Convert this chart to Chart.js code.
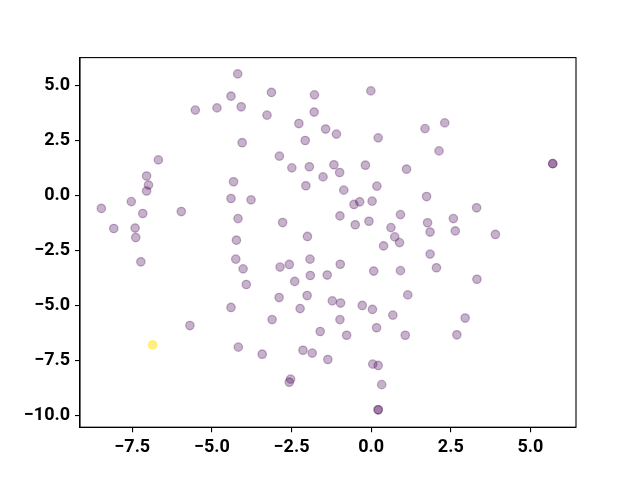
<!DOCTYPE html>
<html lang="en">
<head>
  <meta charset="UTF-8">
  <title>Scatter</title>
  <script src="https://cdn.jsdelivr.net/npm/chart.js"></script>
  <style>
    html, body { margin: 0; padding: 0; background: #fff; }
    #chart { display: block; }
  </style>
</head>
<body>
  <canvas id="chart" width="640" height="480"></canvas>

  <script>
    // point positions
    const xValues = [
      -4.19, -3.13, -1.78, -4.40, -5.52, -4.84, -4.08, -3.27, -1.79, -2.27,
      -1.43, -2.07, -4.05, -6.68, -2.88, -2.49, -1.94, -1.51, -7.05, -6.99,
      -7.05, -4.32, -2.05, -7.53, -4.40, -3.77, -8.47, -7.17, -5.96, -4.18,
      -2.78, -8.08, -7.41, -7.39, -4.23, -2.00,
      -0.01, -1.09, 0.22, 1.69, 2.31, 2.13, 5.70, 5.70, -1.17, -0.99,
      -0.18, 1.11, -0.86, 0.18, -0.54, -0.36, 0.03, 1.74, 3.31, -0.98,
      0.92, -0.50, -0.07, 0.62, 1.77, 2.58, 1.85, 2.64, 3.90, 0.74,
      0.89, 0.39,
      -7.23, -4.25, -4.02, -2.86, -2.57, -1.92, -3.92, -2.40, -1.91, -1.38,
      -2.89, -2.01, -4.40, -2.23, -1.22, -3.11, -5.69, -1.60, -6.86, -4.17,
      -3.42, -2.14, -1.85, -1.36, -2.53, -2.57,
      1.85, -0.97, 0.08, 0.92, 2.05, 3.32, 1.15, -0.96, -0.28, 0.04,
      0.68, 2.95, -0.98, 0.17, -0.77, 1.07, 2.69, 0.05, 0.22, 0.33,
      0.22, 0.22
    ];
    const yValues = [
      5.51, 4.67, 4.56, 4.50, 3.87, 3.97, 4.02, 3.64, 3.78, 3.26,
      3.01, 2.49, 2.39, 1.61, 1.78, 1.25, 1.30, 0.84, 0.88, 0.47,
      0.20, 0.62, 0.44, -0.28, -0.14, -0.20, -0.59, -0.82, -0.73, -1.05,
      -1.23, -1.50, -1.48, -1.91, -2.03, -1.86,
      4.74, 2.78, 2.61, 3.03, 3.29, 2.02, 1.44, 1.44, 1.39, 1.04,
      1.37, 1.19, 0.24, 0.42, -0.41, -0.29, -0.26, -0.05, -0.56, -0.93,
      -0.87, -1.33, -1.17, -1.46, -1.24, -1.05, -1.66, -1.61, -1.77, -1.88,
      -2.14, -2.29,
      -3.01, -2.89, -3.33, -3.25, -3.13, -2.89, -4.04, -3.90, -3.63, -3.61,
      -4.63, -4.54, -5.08, -5.13, -4.78, -5.63, -5.90, -6.17, -6.78, -6.88,
      -7.20, -7.02, -7.15, -7.44, -8.33, -8.47,
      -2.66, -3.12, -3.43, -3.41, -3.28, -3.80, -4.51, -4.88, -4.99, -5.17,
      -5.43, -5.56, -5.63, -6.00, -6.34, -6.34, -6.32, -7.65, -7.71, -8.58,
      -9.72, -9.72
    ];
    // colour value per point (0 = low end of viridis, 1 = high end)
    const classValues = xValues.map(() => 0);
    classValues[86] = 1;

    const xTicks = [-7.5, -5.0, -2.5, 0.0, 2.5, 5.0];
    const yTicks = [-10.0, -7.5, -5.0, -2.5, 0.0, 2.5, 5.0];

    const pointColor = v => v > 0.5 ? 'rgba(253, 231, 37, 0.55)' : 'rgba(68, 1, 84, 0.3)';
    const points = xValues.map((x, i) => ({ x: x, y: yValues[i] }));
    const colors = classValues.map(pointColor);

    const fmt = v => v.toFixed(1).replace('-', '\u2212');
    const tickFont = { family: 'Roboto', size: 18, weight: 'bold' };

    // matplotlib-like frame around the plot area
    const framePlugin = {
      id: 'frame',
      afterDraw(chart) {
        const a = chart.chartArea;
        const ctx = chart.ctx;
        ctx.save();
        ctx.strokeStyle = '#000';
        ctx.lineWidth = 1.1;
        ctx.strokeRect(a.left, a.top, a.right - a.left, a.bottom - a.top);
        ctx.restore();
      }
    };

    new Chart(document.getElementById('chart'), {
      type: 'scatter',
      data: {
        datasets: [{
          data: points,
          backgroundColor: colors,
          borderColor: colors,
          borderWidth: 1.3,
          pointRadius: 4.2,
          pointHoverRadius: 4.2
        }]
      },
      options: {
        responsive: false,
        animation: false,
        events: [],
        layout: { padding: { left: 0, right: 64, top: 57.6, bottom: 0 } },
        plugins: { legend: { display: false }, tooltip: { enabled: false } },
        scales: {
          x: {
            type: 'linear',
            min: -9.14,
            max: 6.43,
            afterBuildTicks: axis => { axis.ticks = xTicks.map(v => ({ value: v })); },
            afterFit: axis => { axis.height = 52.8; },
            grid: { display: true, drawOnChartArea: false, drawTicks: true, tickLength: 5, color: '#000', lineWidth: 1.1 },
            border: { display: true, color: '#000', width: 1.1 },
            ticks: { color: '#000', font: tickFont, padding: 4, maxRotation: 0, autoSkip: false, callback: fmt }
          },
          y: {
            type: 'linear',
            min: -10.51,
            max: 6.25,
            afterBuildTicks: axis => { axis.ticks = yTicks.map(v => ({ value: v })); },
            afterFit: axis => { axis.width = 80; },
            grid: { display: true, drawOnChartArea: false, drawTicks: true, tickLength: 5, color: '#000', lineWidth: 1.1 },
            border: { display: true, color: '#000', width: 1.1 },
            ticks: { color: '#000', font: tickFont, padding: 5, autoSkip: false, callback: fmt }
          }
        }
      },
      plugins: [framePlugin]
    });
  </script>
</body>
</html>
